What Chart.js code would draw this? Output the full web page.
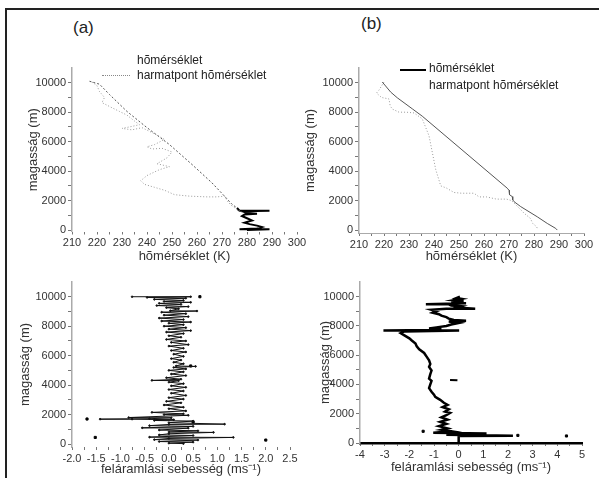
<!DOCTYPE html>
<html>
<head>
<meta charset="utf-8">
<script src="https://cdn.jsdelivr.net/npm/chart.js@4.4.1/dist/chart.umd.min.js"></script>
<style>
  body { margin: 0; background: #fff; width: 599px; height: 478px; overflow: hidden; position: relative; font-family: "Liberation Sans", Arial, sans-serif; }
  #frame { position: absolute; left: 5px; top: 8px; width: 700px; height: 600px; border: 2px solid #222; }
  canvas { position: absolute; }
  .lbl { position: absolute; color: #222; white-space: nowrap; }
  .panel { font-size: 17px; }
  .leg { font-size: 12px; line-height: 14px; }
  .sample { position: absolute; height: 0; }
</style>
</head>
<body>
<div id="frame"></div>

<canvas id="aTop" width="287" height="212" style="left:22px;top:56px"></canvas>
<canvas id="bTop" width="297" height="212" style="left:299px;top:56px"></canvas>
<canvas id="aBot" width="288" height="211" style="left:14px;top:270px"></canvas>
<canvas id="bBot" width="280" height="209" style="left:314px;top:270px"></canvas>

<div class="lbl panel" style="left:73px;top:18px">(a)</div>
<div class="lbl panel" style="left:361px;top:14px">(b)</div>

<div class="lbl leg" style="left:137px;top:53px">hõmérséklet</div>
<div class="sample" style="left:102px;top:75px;width:28px;border-top:1px dotted #888"></div>
<div class="lbl leg" style="left:137px;top:68px">harmatpont hõmérséklet</div>

<div class="sample" style="left:400px;top:69px;width:26px;border-top:2px solid #000"></div>
<div class="lbl leg" style="left:429px;top:61px">hõmérséklet</div>
<div class="lbl leg" style="left:429px;top:78px">harmatpont hõmérséklet</div>

<script>
// tick positions (labels only on every second one)
var heightTicks = [0, 1000, 2000, 3000, 4000, 5000, 6000, 7000, 8000, 9000, 10000];
var tempTicks = [210, 215, 220, 225, 230, 235, 240, 245, 250, 255, 260, 265, 270, 275, 280, 285, 290, 295, 300];
var velTicksA = [-2, -1.75, -1.5, -1.25, -1, -0.75, -0.5, -0.25, 0, 0.25, 0.5, 0.75, 1, 1.25, 1.5, 1.75, 2, 2.25, 2.5];
var velTicksB = [-4, -3.5, -3, -2.5, -2, -1.5, -1, -0.5, 0, 0.5, 1, 1.5, 2, 2.5, 3, 3.5, 4, 4.5, 5];

// (a) temperature profile, K and m
var tempK_a = [217, 221, 225, 232, 240, 249, 258, 266, 271, 274, 276];
var tempH_a = [10100, 9900, 9200, 8050, 6950, 5800, 4450, 3200, 2300, 1750, 1500];
// (a) the thick black bit near the ground
var surfK_a = [276, 277, 289, 278, 280, 284, 279, 278, 280, 282, 279, 281, 284, 286, 284, 277, 289, 280];
var surfH_a = [1500, 1310, 1310, 1280, 1150, 1100, 1050, 950, 800, 650, 500, 400, 300, 200, 100, 50, 50, 0];
// (a) dew point
var dewK_a = [218, 220, 221, 223, 222, 226, 229, 232, 235, 237, 233, 230, 234, 238, 241, 244, 247, 243, 240, 242, 246, 250, 248, 244, 249, 245, 240, 237.5, 239, 243, 247, 251, 257, 264, 268, 271, 272, 273.5, 276, 278];
var dewH_a = [10050, 9800, 9400, 9000, 8650, 8300, 8050, 7800, 7400, 7150, 7000, 6900, 6800, 6950, 6700, 6450, 6150, 5800, 5650, 5500, 5550, 5300, 4900, 4500, 4300, 4100, 3700, 3350, 3100, 2900, 2700, 2400, 2300, 2250, 2250, 2300, 2000, 1700, 1400, 1200];

// (b) temperature and dew point
var tempK_b = [219.3, 222.7, 225.3, 231.3, 235.3, 269.3, 270, 270.2, 271.3, 271.5, 272, 274.7, 281.3, 285.3, 288.7, 289.3];
var tempH_b = [10050, 9360, 8980, 8230, 7730, 2840, 2700, 2400, 2270, 2050, 1930, 1590, 900, 450, 110, 0];
var dewK_b = [220, 218, 217, 219, 222, 222.5, 223.5, 226, 229, 232, 235.3, 238, 240.7, 242.7, 245, 248, 251, 256, 258, 261, 265, 269, 271, 274, 276, 278.5, 279.5, 281, 281.5];
var dewH_b = [10050, 9500, 9300, 9000, 8900, 8400, 8200, 8000, 8000, 7950, 7550, 6400, 4100, 3000, 2850, 2550, 2500, 2500, 2250, 2250, 2100, 2100, 2000, 1500, 1150, 800, 450, 230, 60];

// (a) updraft speed, m/s, traced top to bottom
var velA = [-0.76, 0.45, -0.45, 0.35, -0.3, 0.3, -0.1, 0.45, -0.2, 0.25, -0.25, 0.4, -0.05, 0.2, 0.03, 0.58, -0.15, 0.35, -0.1, 0.4,
  -0.2, 0.3, -0.15, 0.45, 0.0, 0.3, -0.1, 0.35, 0.0, 0.45, -0.05, 0.3, 0.0, 0.25, -0.05, 0.35, 0.05, 0.4, 0.0, 0.3,
  0.05, 0.35, 0.1, 0.3, 0.05, 0.25, 0.1, 0.3, 0.15, 0.55, 0.1, 0.35, 0.0, 0.3, 0.05, 0.35, -0.05, 0.25, -0.35, 0.2,
  0.0, 0.3, 0.05, 0.35, 0.0, 0.3, 0.05, 0.35, 0.0, 0.3, -0.05, 0.25, -0.1, 0.3, 0.0, 0.35, -0.35, 0.3, -0.1, 0.4,
  -0.83, 0.05, -0.4, -1.42, -0.76, 0.1, -0.3, 0.5, 0.0, 1.15, 0.0, -0.4, 0.5, -0.55, 0.4, -0.2, 0.6, 0.0, 0.92, 0.0,
  -0.2, 0.5, -0.4, 1.33, 0.0, -0.3, 0.6, -0.2, 0.5, 0.0, 0.3];
var velHA = [10000, 10000, 9950, 9900, 9820, 9750, 9680, 9620, 9550, 9480, 9400, 9330, 9260, 9180, 9050, 9030, 8950, 8850, 8750, 8650,
  8550, 8450, 8350, 8280, 8200, 8100, 8000, 7900, 7800, 7700, 7600, 7500, 7350, 7250, 7100, 7000, 6900, 6750, 6650, 6500,
  6350, 6250, 6100, 5950, 5800, 5700, 5550, 5450, 5300, 5270, 5200, 5100, 5000, 4900, 4750, 4650, 4500, 4400, 4320, 4300,
  4200, 4100, 3950, 3850, 3700, 3600, 3450, 3300, 3150, 3050, 2900, 2800, 2650, 2500, 2400, 2250, 2150, 2050, 2000, 1950,
  1800, 1780, 1720, 1690, 1690, 1650, 1600, 1560, 1450, 1350, 1330, 1250, 1200, 1100, 1080, 950, 900, 820, 790, 700,
  620, 580, 470, 450, 380, 300, 270, 170, 130, 60, 30];
var dotVelA = [-1.69, -1.52, 2.0, 0.64, 0.45, 0.5];
var dotHA = [1700, 450, 270, 10000, 5300, 1500];

// (b) updraft speed
var velB = [0.05, -0.1, 0.1, -0.2, 0.2, -0.3, 0.3, -1.33, -0.4, -0.3, 0.1, -0.1, 0.67, -0.5, -1.1, -0.9, -1.05, -0.8, -0.7, -0.5,
  -0.4, -0.2, 0.3, -0.4, 0.0, -0.3, -0.5, -0.9, -1.2, -0.7, -1.0, -3.05, 0.02, -2.2, -2.35, -2.2, -2.0, -1.9, -1.75, -1.7,
  -1.6, -1.4, -1.3, -1.2, -1.15, -1.2, -1.1, -1.15, -1.2, -1.1, -1.15, -1.2, -1.1, -1.0, -0.95, -0.75, -0.6, -0.45, -0.65, -0.4,
  -0.55, -0.35, -0.5, -0.7, -0.45, -0.75, -0.5, -0.8, -0.45, -0.7, -0.3, -1.03, 1.13, 0.0, -0.5, 2.2, 0.0, 0.0];
var velHB = [10000, 9900, 9850, 9750, 9700, 9600, 9550, 9480, 9480, 9400, 9350, 9250, 9170, 9170, 9100, 9000, 8900, 8800, 8700, 8600,
  8500, 8400, 8350, 8300, 8200, 8100, 8000, 7900, 7820, 7800, 7720, 7680, 7680, 7620, 7500, 7350, 7150, 7000, 6800, 6600,
  6400, 6150, 5900, 5650, 5400, 5200, 4950, 4700, 4400, 4250, 4000, 3750, 3500, 3300, 3150, 2950, 2750, 2600, 2450, 2300,
  2150, 2050, 1900, 1750, 1600, 1450, 1300, 1150, 1000, 900, 800, 700, 650, 620, 560, 500, 480, 0];
var blipVelB = [-0.35, -0.05];
var blipHB = [4310, 4290];
var dotVelB = [4.37, 2.4, -1.44];
var dotHB = [480, 520, 800];

function pts(xs, ys) {
    var out = [];
    for (var i = 0; i < xs.length; i++) {
        out.push({x: xs[i], y: ys[i]});
    }
    return out;
}

function lineSet(xs, ys, color, width, dash, dots) {
    return {
        data: pts(xs, ys),
        showLine: true,
        borderColor: color,
        backgroundColor: color,
        borderWidth: width,
        borderDash: dash || [],
        pointRadius: dots || 0,
        pointHoverRadius: 0,
        tension: 0
    };
}

function dotSet(xs, ys, r) {
    return {
        data: pts(xs, ys),
        showLine: false,
        backgroundColor: '#000',
        borderColor: '#000',
        pointRadius: r,
        pointStyle: 'rect'
    };
}

function asTicks(list) {
    return list.map(function(v) { return {value: v}; });
}

// fixed sizes so that the plot area lands where the picture has it
function makeScales(o) {
    return {
        x: {
            type: 'linear',
            min: o.xmin, max: o.xmax,
            afterFit: function(s) { s.height = o.h; },
            afterBuildTicks: function(s) { s.ticks = asTicks(o.xticks); },
            ticks: {
                autoSkip: false,
                maxRotation: 0,
                padding: 2,
                color: '#333',
                font: {family: 'Liberation Sans', size: 11},
                callback: o.xlabel
            },
            grid: {drawOnChartArea: false, drawTicks: true, tickLength: 3, color: '#777'},
            border: {display: o.xborder, color: o.xborderColor || '#aaa', width: o.xborderWidth || 1},
            title: {display: true, text: o.xtitle, color: '#333', font: {family: 'Liberation Sans', size: 13}, padding: {top: 2, bottom: 4}}
        },
        y: {
            type: 'linear',
            min: o.ymin, max: 11000,
            afterFit: function(s) { s.width = o.w; },
            afterBuildTicks: function(s) { s.ticks = asTicks(heightTicks); },
            ticks: {
                autoSkip: false,
                padding: 2,
                color: '#333',
                font: {family: 'Liberation Sans', size: 11},
                callback: function(v) { return v % 2000 === 0 ? String(v) : ''; }
            },
            grid: {drawOnChartArea: false, drawTicks: true, tickLength: 4, color: '#777'},
            border: {display: true, color: '#aaa', width: 1.5},
            title: {display: true, text: 'magasság (m)', color: '#333', font: {family: 'Liberation Sans', size: 13}, padding: {top: 4, bottom: 2}}
        }
    };
}

function drawChart(id, datasets, o) {
    var ctx = document.getElementById(id).getContext('2d');
    return new Chart(ctx, {
        type: 'scatter',
        data: {datasets: datasets},
        options: {
            responsive: false,
            animation: false,
            devicePixelRatio: 1,
            layout: {padding: {top: 12, right: 12, left: 0, bottom: 0}},
            plugins: {legend: {display: false}, tooltip: {enabled: false}},
            scales: makeScales(o)
        }
    });
}

function tempLabel(v) { return v % 10 === 0 ? String(v) : ''; }

function drawAll() {
    drawChart('aTop', [
        lineSet(dewK_a, dewH_a, '#999', 1, [1, 2]),
        lineSet(tempK_a, tempH_a, '#555', 1, [2, 2]),
        lineSet(surfK_a, surfH_a, '#000', 2)
    ], {xmin: 210, xmax: 300, xticks: tempTicks, xlabel: tempLabel, xtitle: 'hõmérséklet (K)', xborder: false, ymin: -100, w: 50, h: 36.5});

    drawChart('bTop', [
        lineSet(dewK_b, dewH_b, '#999', 1, [1, 2]),
        lineSet(tempK_b, tempH_b, '#555', 1)
    ], {xmin: 210, xmax: 300, xticks: tempTicks, xlabel: tempLabel, xtitle: 'hõmérséklet (K)', xborder: true, ymin: -200, w: 60, h: 35});

    drawChart('aBot', [
        lineSet(velA, velHA, '#111', 1, [], 0.8),
        dotSet(dotVelA, dotHA, 1.5)
    ], {xmin: -2, xmax: 2.5, xticks: velTicksA, xtitle: 'feláramlási sebesség (ms⁻¹)', xborder: false, ymin: -200, w: 58, h: 34,
        xlabel: function(v) { return Math.abs(v * 2 - Math.round(v * 2)) < 1e-6 ? v.toFixed(1) : ''; }});

    drawChart('bBot', [
        lineSet(velB, velHB, '#000', 2.5),
        lineSet(blipVelB, blipHB, '#000', 2),
        dotSet(dotVelB, dotHB, 1.5)
    ], {xmin: -4, xmax: 5, xticks: velTicksB, xtitle: 'feláramlási sebesség (ms⁻¹)', xborder: true, xborderColor: '#000', xborderWidth: 2.5, ymin: 0, w: 46, h: 36,
        xlabel: function(v) { return Number.isInteger(v) ? String(v) : ''; }});
}

window.onload = drawAll;
</script>
</body>
</html>
